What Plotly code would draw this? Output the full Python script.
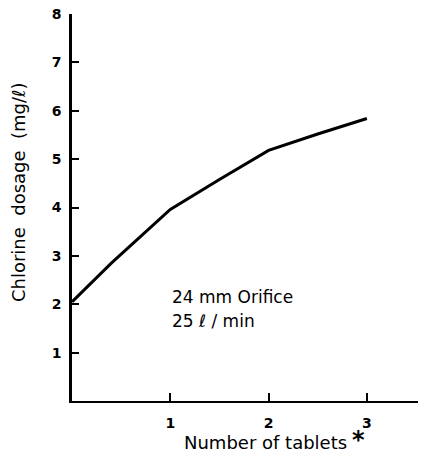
import plotly.graph_objects as go

tablets = [0, 0.4, 1, 1.5, 2, 2.5, 3]
dosage = [2.05, 2.85, 3.96, 4.58, 5.18, 5.52, 5.84]
x_ticks = [1, 2, 3]
y_ticks = [1, 2, 3, 4, 5, 6, 7, 8]

fig = go.Figure()
fig.add_trace(go.Scatter(x=tablets, y=dosage, mode="lines",
                         line=dict(color="black", width=3), showlegend=False))

font_main = "DejaVu Sans"
# page body has an 8px default margin, so the figure is sized to fit inside it
fig.update_layout(
    width=429, height=449,
    margin=dict(l=64, r=19, t=6, b=56, autoexpand=False),
    paper_bgcolor="white", plot_bgcolor="white",
    font=dict(family=font_main, color="black"),
    xaxis=dict(range=[0, 3.52], tickvals=x_ticks, ticktext=[str(v) for v in x_ticks],
               showgrid=False, zeroline=False, showline=True, linecolor="black", linewidth=2,
               ticks="inside", ticklen=8, tickwidth=2, tickcolor="black", automargin=False,
               ticklabelstandoff=8, ticklabeloverflow="allow",
               tickfont=dict(family=font_main, size=14, color="black", weight="bold")),
    yaxis=dict(range=[0, 8], tickvals=y_ticks, ticktext=[str(v) for v in y_ticks],
               showgrid=False, zeroline=False, showline=True, linecolor="black", linewidth=2.5,
               ticks="inside", ticklen=7, tickwidth=2, tickcolor="black", automargin=False,
               ticklabelstandoff=5, ticklabeloverflow="allow",
               tickfont=dict(family=font_main, size=14, color="black", weight="bold")),
    annotations=[
        dict(text="24 mm Orifice", xref="paper", yref="paper", x=0.283, y=0.269,
             xanchor="left", yanchor="middle", showarrow=False,
             font=dict(family=font_main, size=17, color="black")),
        dict(text="25 ℓ / min", xref="paper", yref="paper", x=0.283, y=0.207,
             xanchor="left", yanchor="middle", showarrow=False,
             font=dict(family=font_main, size=17, color="black")),
        dict(text="Chlorine  dosage  (mg/ℓ)", xref="paper", yref="paper",
             x=-0.156, y=0.54, textangle=-90, xanchor="center", yanchor="middle",
             showarrow=False, font=dict(family=font_main, size=18, color="black")),
        dict(text="Number of tablets", xref="paper", yref="paper",
             x=0.56, y=-0.106, xanchor="center", yanchor="middle",
             showarrow=False, font=dict(family=font_main, size=18, color="black")),
        dict(text="<b>*</b>", xref="paper", yref="paper",
             x=0.829, y=-0.101, xanchor="center", yanchor="middle",
             showarrow=False, font=dict(family=font_main, size=24, color="black")),
    ],
)

fig.write_html("out.html")
